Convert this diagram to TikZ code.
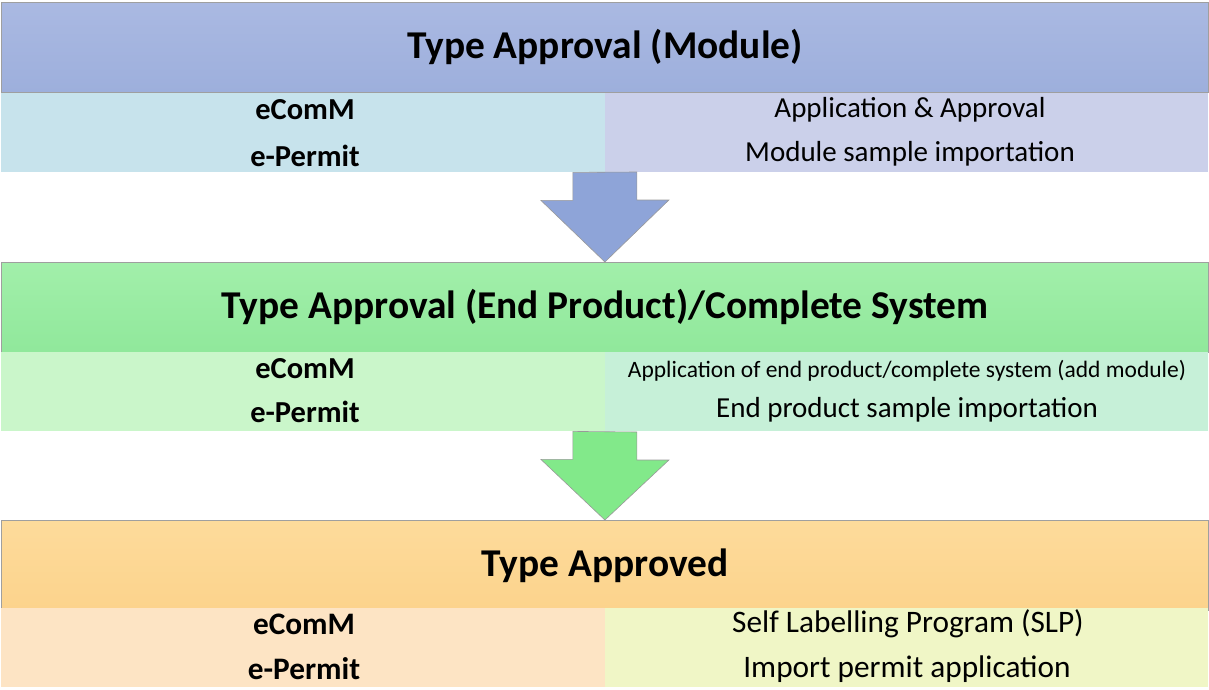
\documentclass[tikz,border=0pt]{standalone}
\usepackage{fontspec}
\setmainfont{Carlito}
\begin{document}
\begin{tikzpicture}[x=1pt,y=-1pt,
  hdr/.style={draw=gray!75,line width=0.8pt,minimum width=1207pt,minimum height=90pt,anchor=north west,inner sep=0pt,font=\fontsize{39.4}{44}\selectfont\bfseries},
  cell/.style={minimum width=603.5pt,minimum height=79pt,anchor=north west,inner sep=0pt,align=center},
  lbl/.style={font=\fontsize{30.5}{36}\selectfont\bfseries},
  txt/.style={font=\fontsize{29}{34}\selectfont},
  txtb/.style={font=\fontsize{31.3}{36}\selectfont},
  flow/.style={draw=gray!80,line width=0.6pt}]
\useasboundingbox (0,0) rectangle (1209,690);
\definecolor{bhA}{HTML}{AAB9E2}\definecolor{bhB}{HTML}{9DAFDC}
\definecolor{bL}{HTML}{C7E3EC}\definecolor{bR}{HTML}{CBD0EA}\definecolor{bAr}{HTML}{8EA4D8}
\definecolor{ghA}{HTML}{A2EFAA}\definecolor{ghB}{HTML}{90E89B}
\definecolor{gL}{HTML}{CAF6CA}\definecolor{gR}{HTML}{C6F0D8}\definecolor{gAr}{HTML}{82E98A}
\definecolor{ohA}{HTML}{FDDB9B}\definecolor{ohB}{HTML}{FCD38C}
\definecolor{oL}{HTML}{FDE4C4}\definecolor{oR}{HTML}{F0F6C6}
% section 1
\node[hdr,top color=bhA,bottom color=bhB] (h1) at (1,2) {Type Approval (Module)};
\node[cell,fill=bL] (l1) at (1,93) {};
\node[cell,fill=bR] (r1) at (604.5,93) {};
\node[lbl] (l1a) at (305,110) {eComM};
\node[lbl] (l1b) at (305,156) {e-Permit};
\node[txt] (r1a) at (910,110) {Application \& Approval};
\node[txt] (r1b) at (910,154) {Module sample importation};
% section 2
\node[hdr,top color=ghA,bottom color=ghB] (h2) at (1,262) {Type Approval (End Product)/Complete System};
\node[cell,fill=gL] (l2) at (1,352) {};
\node[cell,fill=gR] (r2) at (604.5,352) {};
\node[lbl] (l2a) at (305,369) {eComM};
\node[lbl] (l2b) at (305,412) {e-Permit};
\node[font=\fontsize{23.5}{28}\selectfont] (r2a) at (907,371) {Application of end product/complete system (add module)};
\node[txt] (r2b) at (907,410) {End product sample importation};
% section 3
\node[hdr,top color=ohA,bottom color=ohB] (h3) at (1,520) {Type Approved};
\node[cell,fill=oL] (l3) at (1,608) {};
\node[cell,fill=oR] (r3) at (604.5,608) {};
\node[lbl,font=\fontsize{31.3}{36}\selectfont\bfseries] (l3a) at (304,624) {eComM};
\node[lbl,font=\fontsize{31.3}{36}\selectfont\bfseries] (l3b) at (304,669) {e-Permit};
\node[txtb] (r3a) at (908,624) {Self Labelling Program (SLP)};
\node[txtb] (r3b) at (907,669) {Import permit application};
% arrows
\draw[flow,fill=bAr] (l1.south east) ++(-32,0) -- ++(0,28) -- ++(-32,0) -- (h2.north) -- ++(64,-62) -- ++(-32,0) -- ++(0,-28)-- cycle;
\draw[flow,fill=gAr] (l2.south east) ++(-32,0) -- ++(0,28) -- ++(-32,0) -- (h3.north) -- ++(64,-60) -- ++(-32,0) -- ++(0,-28)-- cycle;
\end{tikzpicture}
\end{document}
